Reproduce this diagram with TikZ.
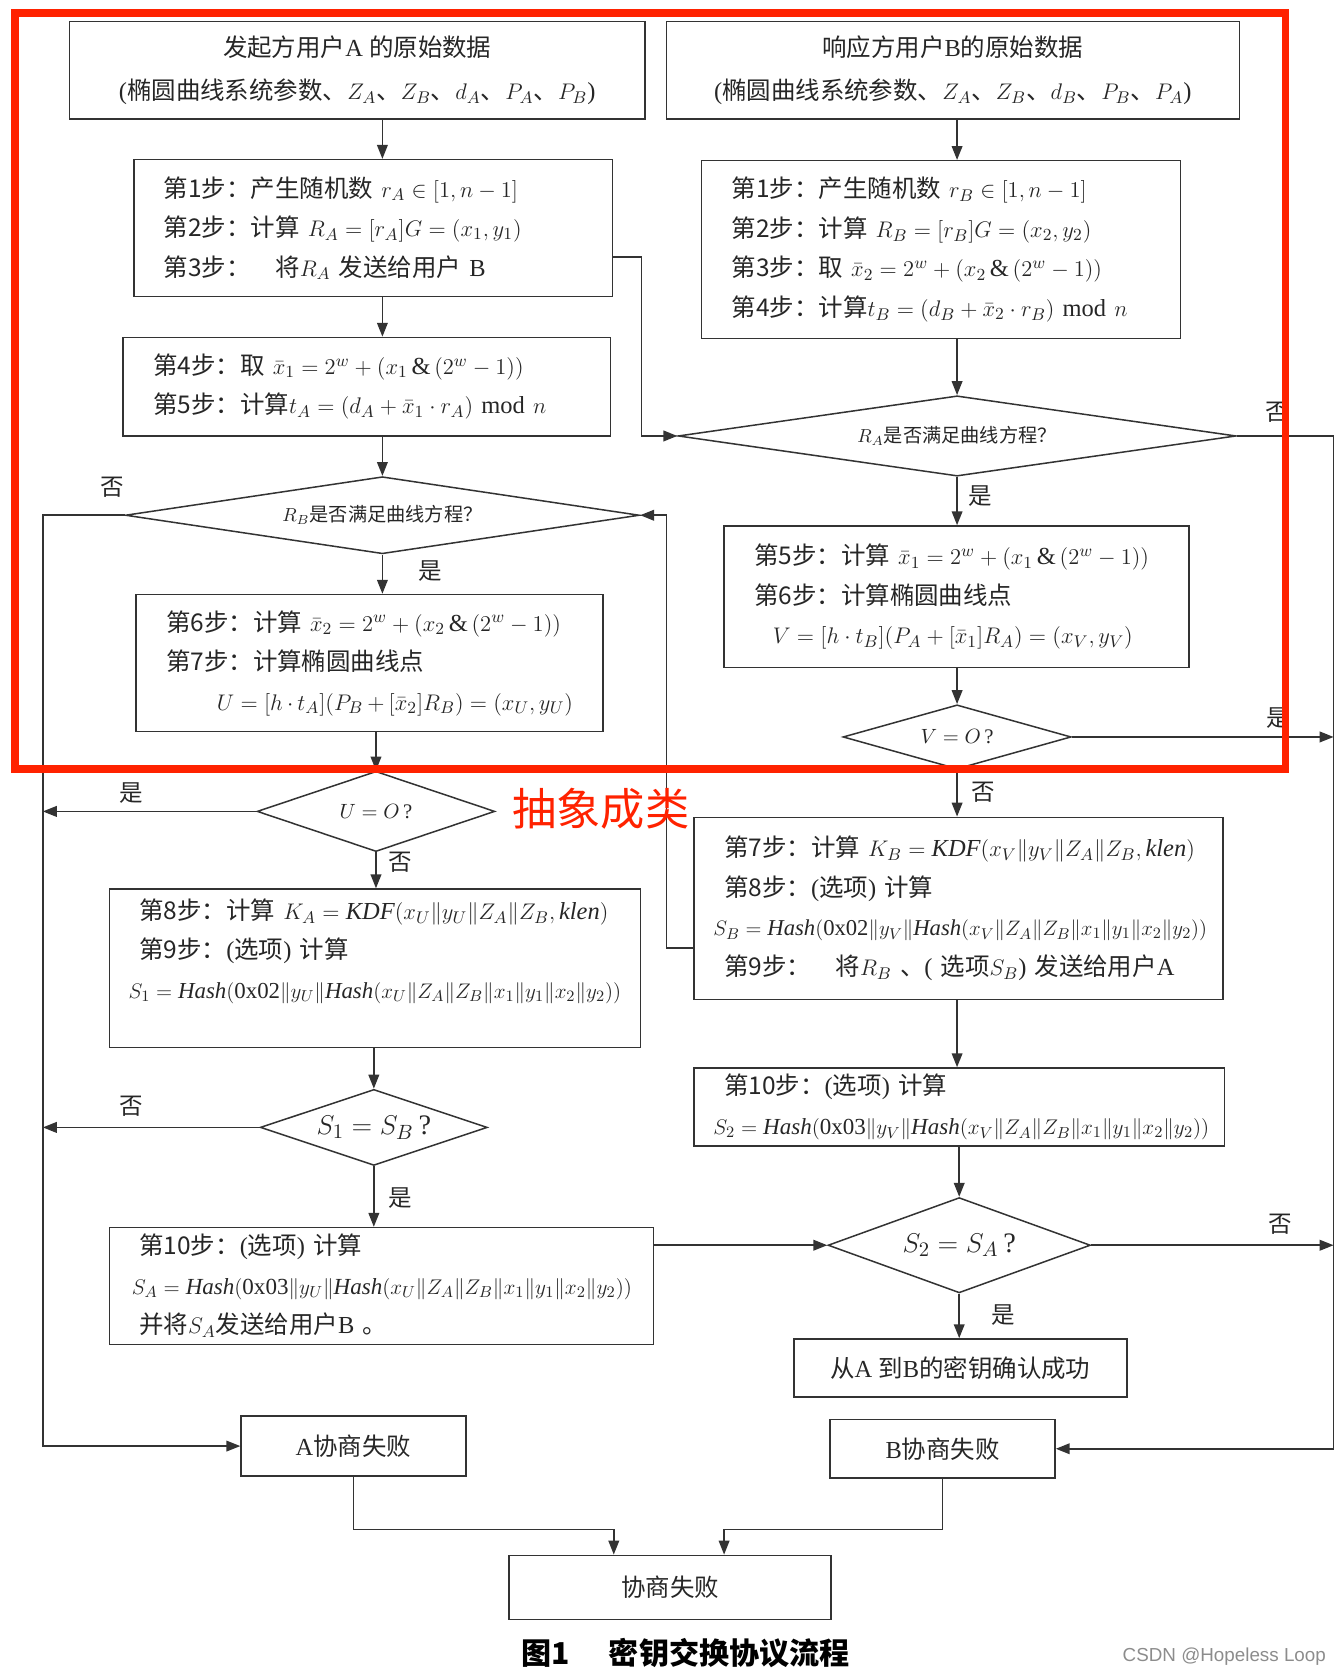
\documentclass[tikz,border=0pt]{standalone}
\usepackage{fontspec}
\setmainfont{Liberation Serif}
\newfontfamily\zh{Noto Sans CJK SC}
\newfontfamily\wmfont{Liberation Sans}
\usetikzlibrary{arrows.meta,shapes.geometric}
\definecolor{markred}{RGB}{255,34,0}
\relpenalty=10000
\binoppenalty=10000
\begin{document}
\begin{tikzpicture}[x=0.02cm, y=-0.02cm,
  font=\fontsize{13}{21}\selectfont, text=black!85,
  stepbox/.style={draw=black!80, line width=0.8pt, align=left, inner xsep=0.56cm, inner ysep=0pt},
  databox/.style={draw=black!80, line width=0.8pt, align=center, inner sep=0pt},
  decision/.style={diamond, draw=black!80, line width=0.8pt, inner sep=0pt},
  arr/.style={draw=black!80, line width=0.8pt, -{Triangle[length=0.26cm, width=0.2cm]}},
  tag/.style={font=\zh\fontsize{12.5}{14}\selectfont}]
\useasboundingbox (0,0) rectangle (1250,1560);

% user A side
\node[databox, minimum width=10.74cm, minimum height=1.82cm] (a0) at (333.5,65.5) {{\zh 发起方用户}A {\zh 的原始数据}\\[1.7pt]({\zh 椭圆曲线系统参数、}$Z_A${\zh 、}$Z_B${\zh 、}$d_A${\zh 、}$P_A${\zh 、}$P_B$)};
\node[stepbox, text width=7.82cm, minimum height=2.56cm] (a1) at (348.5,213) {{\zh 第1步：产生随机数}~$r_A\in[1,n-1]$\\{\zh 第2步：计算}~$R_A=[r_A]G=(x_1,y_1)$\\{\zh 第3步：}\quad{\zh 将}$R_A$~{\zh 发送给用户}~B};
\node[stepbox, text width=7.98cm, minimum height=1.84cm] (a2) at (342.5,361) {{\zh 第4步：取}~$\bar{x}_1=2^w+(x_1\,\&\,(2^w-1))$\\{\zh 第5步：计算}$t_A=(d_A+\bar{x}_1\cdot r_A)~\mathrm{mod}~n$};
\node[decision, aspect=6.67, minimum width=9.6cm, minimum height=1.44cm, font=\fontsize{10.2}{12}\selectfont] (dRB) at (357,481) {$R_B${\zh 是否满足曲线方程？}};
\node[stepbox, text width=7.6cm, minimum height=2.56cm] (a3) at (345,619) {{\zh 第6步：计算}~$\bar{x}_2=2^w+(x_2\,\&\,(2^w-1))$\\{\zh 第7步：计算椭圆曲线点}\\\hspace*{0.95cm}$U=[h\cdot t_A](P_B+[\bar{x}_2]R_B)=(x_U,y_U)$};
\node[decision, aspect=2.96, minimum width=4.44cm, minimum height=1.5cm, font=\fontsize{11}{13}\selectfont] (dU) at (351,757.5) {$U=O$\,?};
\node[stepbox, text width=8.8cm, minimum height=2.96cm] (a4) at (350,904) {{\zh 第8步：计算}~$K_A=\mathit{KDF}(x_U\|y_U\|Z_A\|Z_B,\mathit{klen})$\\{\zh 第9步：}({\zh 选项})~{\zh 计算}\\\hspace*{-0.2cm}\resizebox{9.2cm}{!}{$S_1=\mathit{Hash}(\mathrm{0x02}\|y_U\|\mathit{Hash}(x_U\|Z_A\|Z_B\|x_1\|y_1\|x_2\|y_2))$}\\\mbox{}};
\node[decision, aspect=3, minimum width=4.24cm, minimum height=1.42cm, font=\fontsize{15}{17}\selectfont] (dS1) at (349,1052.5) {$S_1=S_B$\,?};
\node[stepbox, text width=9.04cm, minimum height=2.18cm] (a5) at (356,1200.5) {{\zh 第10步：}({\zh 选项})~{\zh 计算}\\\hspace*{-0.14cm}\resizebox{9.34cm}{!}{$S_A=\mathit{Hash}(\mathrm{0x03}\|y_U\|\mathit{Hash}(x_U\|Z_A\|Z_B\|x_1\|y_1\|x_2\|y_2))$}\\{\zh 并将}$S_A${\zh 发送给用户}B~{\zh 。}};
\node[databox, minimum width=4.2cm, minimum height=1.12cm] (aF) at (330,1350) {A{\zh 协商失败}};

% user B side
\node[databox, minimum width=10.7cm, minimum height=1.82cm] (b0) at (889.5,65.5) {{\zh 响应方用户}B{\zh 的原始数据}\\[1.7pt]({\zh 椭圆曲线系统参数、}$Z_A${\zh 、}$Z_B${\zh 、}$d_B${\zh 、}$P_B${\zh 、}$P_A$)};
\node[stepbox, text width=7.82cm, minimum height=3.32cm] (b1) at (878.5,233) {{\zh 第1步：产生随机数}~$r_B\in[1,n-1]$\\{\zh 第2步：计算}~$R_B=[r_B]G=(x_2,y_2)$\\{\zh 第3步：取}~$\bar{x}_2=2^w+(x_2\,\&\,(2^w-1))$\\{\zh 第4步：计算}$t_B=(d_B+\bar{x}_2\cdot r_B)~\mathrm{mod}~n$};
\node[decision, aspect=6.95, minimum width=10.42cm, minimum height=1.5cm, font=\fontsize{10.2}{12}\selectfont] (dRA) at (893.5,407) {$R_A${\zh 是否满足曲线方程？}};
\node[stepbox, text width=7.56cm, minimum height=2.64cm] (b2) at (893,557) {{\zh 第5步：计算}~$\bar{x}_1=2^w+(x_1\,\&\,(2^w-1))$\\{\zh 第6步：计算椭圆曲线点}\\\hspace*{0.35cm}$V=[h\cdot t_B](P_A+[\bar{x}_1]R_A)=(x_V,y_V)$};
\node[decision, aspect=3.55, minimum width=4.26cm, minimum height=1.2cm, font=\fontsize{11}{13}\selectfont] (dV) at (893.5,688) {$V=O$\,?};
\node[stepbox, text width=8.76cm, minimum height=3.4cm] (b3) at (895,848) {{\zh 第7步：计算}~$K_B=\mathit{KDF}(x_V\|y_V\|Z_A\|Z_B,\mathit{klen})$\\{\zh 第8步：}({\zh 选项})~{\zh 计算}\\\hspace*{-0.2cm}\resizebox{9.22cm}{!}{$S_B=\mathit{Hash}(\mathrm{0x02}\|y_V\|\mathit{Hash}(x_V\|Z_A\|Z_B\|x_1\|y_1\|x_2\|y_2))$}\\{\zh 第9步：}\quad{\zh 将}$R_B$~{\zh 、}(~{\zh 选项}$S_B$)~{\zh 发送给用户}A};
\node[stepbox, text width=8.78cm, minimum height=1.46cm] (b4) at (895.5,1033.5) {{\zh 第10步：}({\zh 选项})~{\zh 计算}\\\hspace*{-0.2cm}\resizebox{9.26cm}{!}{$S_2=\mathit{Hash}(\mathrm{0x03}\|y_V\|\mathit{Hash}(x_V\|Z_A\|Z_B\|x_1\|y_1\|x_2\|y_2))$}};
\node[decision, aspect=2.75, minimum width=4.9cm, minimum height=1.78cm, font=\fontsize{15}{17}\selectfont] (dS2) at (895.5,1162.5) {$S_2=S_A$\,?};
\node[databox, minimum width=6.22cm, minimum height=1.08cm] (ok) at (896.5,1277) {{\zh 从}A {\zh 到}B{\zh 的密钥确认成功}};
\node[databox, minimum width=4.2cm, minimum height=1.1cm] (bF) at (880,1352.5) {B{\zh 协商失败}};

\node[databox, minimum width=6.02cm, minimum height=1.2cm] (fail) at (625.5,1482) {{\zh 协商失败}};

\coordinate (lbus) at (40,481);
\coordinate (rbus) at (1245,407);

% main flow
\draw[arr] (a0.south -| dRB) -- (a1.north -| dRB);
\draw[arr] (a1.south -| dRB) -- (a2.north -| dRB);
\draw[arr] (a2.south -| dRB) -- (dRB.north);
\draw[arr] (dRB.south) -- (a3.north -| dRB);
\draw[arr] (a3.south -| dU) -- (dU.north);
\draw[arr] (dU.south) -- (a4.north -| dU);
\draw[arr] (a4.south -| dS1) -- (dS1.north);
\draw[arr] (dS1.south) -- (a5.north -| dS1);
\draw[arr] (b0.south -| dRA) -- (b1.north -| dRA);
\draw[arr] (b1.south -| dRA) -- (dRA.north);
\draw[arr] (dRA.south) -- (b2.north -| dRA);
\draw[arr] (b2.south -| dV) -- (dV.north);
\draw[arr] (dV.south) -- (b3.north -| dV);
\draw[arr] (b3.south -| dV) -- (b4.north -| dV);
\draw[arr] (b4.south -| dS2) -- (dS2.north);
\draw[arr] (dS2.south) -- (ok.north -| dS2);

% messages and failures
\draw[arr] ([yshift=-0.54cm]a1.east) -- ++(26,0) |- (dRA.west);
\draw[arr] ([yshift=-0.74cm]b3.west) -- ++(-25,0) |- (dRB.east);
\draw[arr] (dS2.west -| a5.east) -- (dS2.west);
\draw[arr] (dRB.west) -- (lbus) |- (aF.west);
\draw[arr] (dU.west) -- (dU.west -| lbus);
\draw[arr] (dS1.west) -- (dS1.west -| lbus);
\draw[arr] (dRA.east) -- (rbus) |- (bF.east);
\draw[arr] (dV.east) -- (dV.east -| rbus);
\draw[arr] (dS2.east) -- (dS2.east -| rbus);
\draw[arr] (aF.south) -- ++(0,49) -| ([xshift=-1.05cm]fail.north);
\draw[arr] (bF.south) -- ++(0,47) -| ([xshift=1.01cm]fail.north);

\node[tag] (noRB) at (105,455) {否};
\node[tag] (yesRB) at (402,533) {是};
\node[tag] (yesU) at (123,740) {是};
\node[tag] (noU) at (374,805) {否};
\node[tag] (noS1) at (123,1033) {否};
\node[tag] (yesS1) at (374,1118) {是};
\node[tag] (noRA) at (1192,385) {否};
\node[tag] (yesRA) at (915,463) {是};
\node[tag] (yesV) at (1193,670) {是};
\node[tag] (noV) at (918,740) {否};
\node[tag] (noS2) at (1195,1143) {否};
\node[tag] (yesS2) at (937,1228) {是};

\draw[markred, line width=0.14cm] (14,12) rectangle (1200,718);
\node[text=markred, font=\zh\fontsize{23.5}{26}\selectfont] (absnote) at (561,755) {抽象成类};

\node[font=\zh\bfseries\fontsize{16}{18}\selectfont, text=black] (caption) at (640,1543) {图1\hspace{1.3em}密钥交换协议流程};
\node[font=\wmfont\fontsize{10}{12}\selectfont, text=black!45] (mark) at (1143,1547) {CSDN @Hopeless Loop};
\end{tikzpicture}
\end{document}
